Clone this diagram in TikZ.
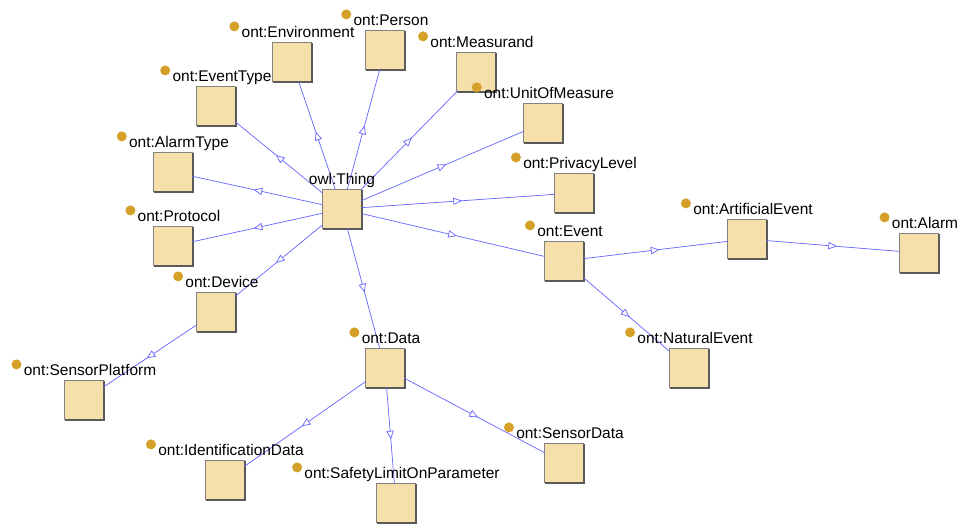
\documentclass[tikz,border=0pt]{standalone}
\usepackage{fontspec}
\setmainfont{Liberation Sans}
\usetikzlibrary{arrows.meta,decorations.markings}
\definecolor{boxfill}{RGB}{245,223,170}
\definecolor{boxline}{RGB}{130,130,130}
\definecolor{boxshade}{RGB}{90,90,90}
\definecolor{edgec}{RGB}{105,105,255}
\definecolor{dotc}{RGB}{212,160,40}
\tikzset{
  cbox/.style={draw=boxline, line width=0.8pt, fill=boxfill, minimum width=29pt, minimum height=29pt, inner sep=0pt, outer sep=0pt},
  lbl/.style={inner sep=0pt, font=\fontsize{11.6pt}{13pt}\selectfont, text=black},
  dotn/.style={circle, fill=dotc, minimum size=7.5pt, inner sep=0pt},
  isa/.style={draw=edgec, line width=0.55pt, postaction={decorate},
    decoration={markings, mark=at position 0.5 with {\arrow[edgec, line width=0.55pt, xshift=3pt]{Triangle[length=6.5pt,width=5.5pt,fill=white]}}}},
}
\newcommand{\clsbox}[3]{%
  \node[cbox] (#1) at (#2,#3) {};
  \draw[boxshade, line width=1pt] ([xshift=0.4pt,yshift=-0.4pt]#1.south west) -- ([xshift=0.4pt,yshift=-0.4pt]#1.south east) -- ([xshift=0.4pt,yshift=-0.4pt]#1.north east);
}
\newcommand{\clslabel}[2]{%
  \node[lbl, anchor=base] (#1-l) at ([xshift=4.5pt,yshift=3.9pt]#1.north) {#2};
  \node[dotn] (#1-d) at ([xshift=-5.3pt,yshift=8.3pt]#1-l.base west) {};
}
\begin{document}
\begin{tikzpicture}[x=0.75pt,y=-0.75pt]
\useasboundingbox (0,0) rectangle (961,524);
% boxes
\clsbox{thing}{342}{209}
\clsbox{env}{292}{62}
\clsbox{person}{385}{50}
\clsbox{measurand}{476}{72}
\clsbox{unit}{543}{123}
\clsbox{privacy}{574}{193}
\clsbox{eventtype}{216}{106}
\clsbox{alarmtype}{173}{172}
\clsbox{protocol}{173}{246}
\clsbox{device}{216}{312}
\clsbox{sensorplat}{84}{400}
\clsbox{data}{385}{368}
\clsbox{identdata}{225}{480}
\clsbox{safety}{396}{503}
\clsbox{sensordata}{564}{463}
\clsbox{event}{564}{261}
\clsbox{artificial}{747}{239}
\clsbox{alarm}{919}{253}
\clsbox{natural}{689}{368}
% edges
\foreach \c in {env,person,measurand,unit,privacy,eventtype,alarmtype,protocol,device,data,event}
  \draw[isa] (thing) -- (\c);
\draw[isa] (device) -- (sensorplat);
\draw[isa] (data) -- (identdata);
\draw[isa] (data) -- (safety);
\draw[isa] (data) -- (sensordata);
\draw[isa] (event) -- (artificial);
\draw[isa] (event) -- (natural);
\draw[isa] (artificial) -- (alarm);
% labels
\node[lbl, anchor=base] (thing-l) at ([yshift=3.9pt]thing.north) {owl:Thing};
\clslabel{env}{ont:Environment}
\clslabel{person}{ont:Person}
\clslabel{measurand}{ont:Measurand}
\clslabel{unit}{ont:UnitOfMeasure}
\clslabel{privacy}{ont:PrivacyLevel}
\clslabel{eventtype}{ont:EventType}
\clslabel{alarmtype}{ont:AlarmType}
\clslabel{protocol}{ont:Protocol}
\clslabel{device}{ont:Device}
\clslabel{sensorplat}{ont:SensorPlatform}
\clslabel{data}{ont:Data}
\clslabel{identdata}{ont:IdentificationData}
\clslabel{safety}{ont:SafetyLimitOnParameter}
\clslabel{sensordata}{ont:SensorData}
\clslabel{event}{ont:Event}
\clslabel{artificial}{ont:ArtificialEvent}
\clslabel{alarm}{ont:Alarm}
\clslabel{natural}{ont:NaturalEvent}
\end{tikzpicture}
\end{document}
